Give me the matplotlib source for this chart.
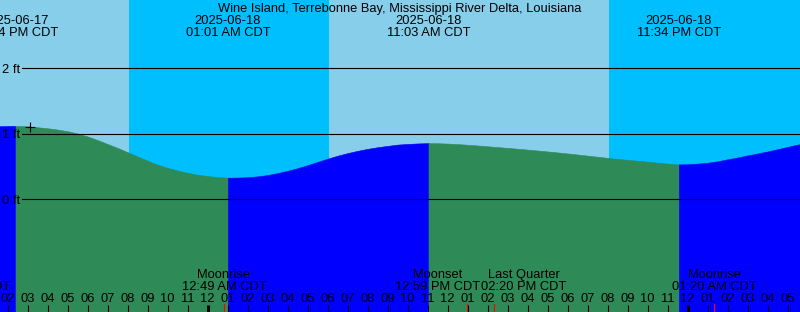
import numpy as np
import pandas as pd
import matplotlib
matplotlib.use("Agg")
import matplotlib.pyplot as plt
from matplotlib.transforms import blended_transform_factory

plt.rcParams['font.family'] = ['Liberation Sans', 'DejaVu Sans']
FS = 9.3

title = "Wine Island, Terrebonne Bay, Mississippi River Delta, Louisiana"

# window shown and reference midnight
origin = pd.Timestamp("2025-06-18 00:00")
win_start = pd.Timestamp("2025-06-17 13:37:30")
win_end = pd.Timestamp("2025-06-19 05:37:30")

# half-hourly tide heights (ft), starting 2025-06-17 13:00
curve_start = "2025-06-17 13:00"
curve_ft = [1.10, 1.115, 1.12, 1.12, 1.115, 1.10, 1.085, 1.065, 1.04, 1.005,
            0.96, 0.905, 0.845, 0.785, 0.72, 0.655, 0.59, 0.53, 0.48, 0.44,
            0.405, 0.375, 0.355, 0.34, 0.33, 0.332, 0.337, 0.35, 0.37, 0.40,
            0.435, 0.475, 0.52, 0.57, 0.62, 0.665, 0.705, 0.74, 0.77, 0.795,
            0.815, 0.835, 0.845, 0.853, 0.857, 0.856, 0.851, 0.843, 0.833, 0.822,
            0.81, 0.797, 0.785, 0.772, 0.759, 0.745, 0.731, 0.716, 0.70, 0.684,
            0.667, 0.65, 0.633, 0.617, 0.602, 0.589, 0.575, 0.559, 0.545, 0.534,
            0.535, 0.545, 0.558, 0.58, 0.61, 0.638, 0.67, 0.70, 0.73, 0.765,
            0.80, 0.835, 0.87]

# high / low tides
ext_time = ["2025-06-17 14:24", "2025-06-18 01:01", "2025-06-18 11:03", "2025-06-18 23:34"]
ext_ft = [1.12, 0.33, 0.858, 0.533]
ext_kind = ["high", "low", "high", "low"]

# sunrise / sunset
sun_time = ["2025-06-17 20:05", "2025-06-18 06:05", "2025-06-18 20:05"]
sun_kind = ["set", "rise", "set"]

# moon events along the bottom
event_name = ["Moonset", "Moonrise", "Moonset", "Last Quarter", "Moonrise"]
event_time = ["2025-06-17 12:01", "2025-06-18 00:49", "2025-06-18 12:59",
              "2025-06-18 14:20", "2025-06-19 01:20"]

now_time = "2025-06-17 15:08"
level_lines = [0, 1, 2]

DAY = "#87CEEB"
NIGHT = "#00BFFF"
RISING = "#0000FF"
FALLING = "#2E8B57"


def hrs(ts):
    return (pd.to_datetime(ts) - origin) / pd.Timedelta(hours=1)


def fmt(ts):
    ts = pd.Timestamp(ts)
    return ts.strftime("%I:%M %p") + " CDT"


W, H = 800, 312
fig = plt.figure(figsize=(W / 100, H / 100), dpi=100)
ax = fig.add_axes([0, 0, 1, 1])
ax.axis('off')

x0, x1 = hrs(win_start), hrs(win_end)
px_per_ft = 65.5
zero_px = 199.3
ymax = zero_px / px_per_ft
ymin = -(H - zero_px) / px_per_ft
ax.set_xlim(x0, x1)
ax.set_ylim(ymin, ymax)

def fy(px):
    return 1 - px / H

bx = blended_transform_factory(ax.transData, ax.transAxes)
by = blended_transform_factory(ax.transAxes, ax.transData)

# day / night background
edges = [x0] + [hrs(t) for t in sun_time] + [x1]
shade = [DAY if sun_kind[0] == "set" else NIGHT]
for k in sun_kind:
    shade.append(NIGHT if k == "set" else DAY)
for i in range(len(edges) - 1):
    ax.axvspan(edges[i], edges[i + 1], color=shade[i], lw=0, zorder=0)

# tide curve, coloured by rising / falling
t_curve = hrs(pd.date_range(curve_start, periods=len(curve_ft), freq="30min"))
t_ext = np.array([hrs(t) for t in ext_time])
t_all = np.concatenate([np.asarray(t_curve), t_ext])
h_all = np.concatenate([curve_ft, ext_ft])
order = np.argsort(t_all)
t_all, h_all = t_all[order], h_all[order]

bounds = [t_all[0]] + list(t_ext) + [t_all[-1]]
for i in range(len(bounds) - 1):
    if i == 0:
        c = RISING if ext_kind[0] == "high" else FALLING
    else:
        c = FALLING if ext_kind[i - 1] == "high" else RISING
    m = (t_all >= bounds[i]) & (t_all <= bounds[i + 1])
    ax.fill_between(t_all[m], h_all[m], ymin, facecolor=c, edgecolor=c,
                    lw=0.4, zorder=1)

# level lines and labels
for lv in level_lines:
    ax.axhline(lv, xmin=22 / W, xmax=1, color="black", lw=0.8, zorder=2)
    ax.text(20 / W, lv - 4.6 / px_per_ft, f"{lv} ft", transform=by,
            ha="right", va="baseline", fontsize=FS, zorder=3)

# current time marker
t_now = hrs(now_time)
ax.plot(t_now, np.interp(t_now, t_all, h_all), marker="+", ms=7, mew=0.8,
        color="black", zorder=3)

# title and tide labels
ax.text(0.5, fy(12), title, transform=ax.transAxes, ha="center",
        va="baseline", fontsize=FS)
for t in ext_time:
    ts = pd.Timestamp(t)
    ax.text(hrs(t), fy(24), ts.strftime("%Y-%m-%d"), transform=bx,
            ha="center", va="baseline", fontsize=FS)
    ax.text(hrs(t), fy(36), fmt(t), transform=bx, ha="center",
            va="baseline", fontsize=FS)

# hour ticks
hours = np.arange(np.ceil(x0), np.floor(x1) + 1)
for hh in hours:
    ts = origin + pd.Timedelta(hours=hh)
    midnight = ts.hour == 0
    ax.plot([hh, hh], [0, 7 / H], transform=bx, color="black",
            lw=2.2 if midnight else 0.8, solid_capstyle="butt", zorder=4)
    ax.text(hh, fy(301.5), ts.strftime("%I"), transform=bx, ha="center",
            va="baseline", fontsize=FS, zorder=4)

# moon events: red ticks, labels pushed apart when they collide
ev_x = np.array([hrs(t) for t in event_time])
lab_x = ev_x.copy()
need = 4.3
for i in range(len(lab_x) - 1):
    gap = lab_x[i + 1] - lab_x[i]
    if gap < need:
        lab_x[i] -= (need - gap) / 2
        lab_x[i + 1] += (need - gap) / 2
for name, t, ex, lx in zip(event_name, event_time, ev_x, lab_x):
    ax.plot([ex, ex], [0, 8 / H], transform=bx, color="red", lw=0.8,
            zorder=5)
    ax.text(lx, fy(278), name, transform=bx, ha="center", va="baseline",
            fontsize=FS, zorder=4)
    ax.text(lx, fy(290), fmt(t), transform=bx, ha="center", va="baseline",
            fontsize=FS, zorder=4)

fig.savefig("out.png", dpi=100)
